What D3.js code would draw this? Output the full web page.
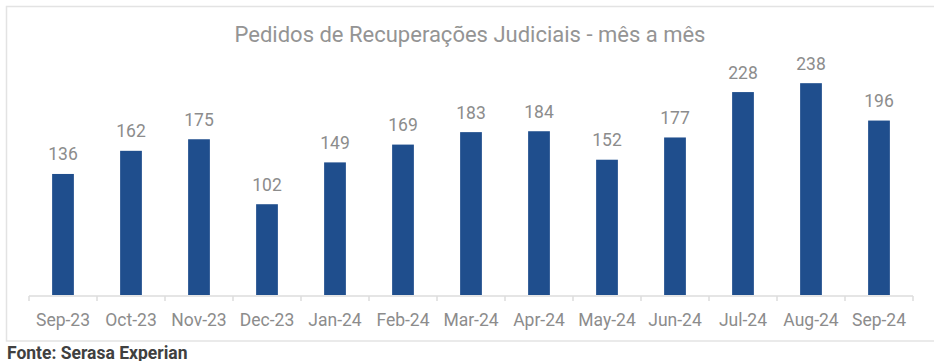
<!DOCTYPE html>
<html><head><meta charset="utf-8">
<script src="https://cdn.jsdelivr.net/npm/d3@7"></script>
<style>body{margin:0;background:#fff;}svg{display:block;}</style>
</head><body>
<script>
const categories = ["Sep-23","Oct-23","Nov-23","Dec-23","Jan-24","Feb-24","Mar-24","Apr-24","May-24","Jun-24","Jul-24","Aug-24","Sep-24"];
const values = [136,162,175,102,149,169,183,184,152,177,228,238,196];
const titleText = "Pedidos de Recuperações Judiciais - mês a mês";
const sourceText = "Fonte: Serasa Experian";

const W = 934, H = 361;
const svg = d3.select("body").append("svg").attr("width", W).attr("height", H);
svg.append("rect").attr("x", 6.5).attr("y", 6.5).attr("width", 940).attr("height", 334.5)
  .attr("fill", "#fff").attr("stroke", "#e3e3e3").attr("stroke-width", 1.5);

const x = d3.scaleBand().domain(categories).range([29, 913]).paddingInner(0.68).paddingOuter(0.34);
const y = d3.scaleLinear().domain([0, 250]).range([295, 72.5]);

svg.append("text").attr("x", 470).attr("y", 42).attr("text-anchor", "middle")
  .attr("font-family", "Roboto").attr("font-size", 22).attr("fill", "#949494").text(titleText);

svg.selectAll("rect.bar").data(values).join("rect").attr("class", "bar")
  .attr("x", (d, i) => x(categories[i])).attr("width", x.bandwidth())
  .attr("y", d => y(d)).attr("height", d => y(0) - y(d)).attr("fill", "#1f4e8d");

svg.selectAll("text.lbl").data(values).join("text").attr("class", "lbl")
  .attr("x", (d, i) => x(categories[i]) + x.bandwidth() / 2).attr("y", d => y(d) - 13.5)
  .attr("text-anchor", "middle").attr("font-family", "Roboto").attr("font-size", 17.5)
  .attr("fill", "#8c8c8c").text(d => d);

const g = svg.append("g");
g.append("line").attr("x1", 29).attr("x2", 913).attr("y1", 296).attr("y2", 296)
  .attr("stroke", "#dcdcdc").attr("stroke-width", 1.5);
g.selectAll("line.tk").data(d3.range(categories.length + 1)).join("line").attr("class", "tk")
  .attr("x1", i => 29 + i * x.step()).attr("x2", i => 29 + i * x.step())
  .attr("y1", 296).attr("y2", 301).attr("stroke", "#dcdcdc").attr("stroke-width", 1.5);

svg.selectAll("text.cat").data(categories).join("text").attr("class", "cat")
  .attr("x", d => x(d) + x.bandwidth() / 2).attr("y", 326)
  .attr("text-anchor", "middle").attr("font-family", "Roboto").attr("font-size", 17.5)
  .attr("fill", "#8c8c8c").text(d => d);

svg.append("text").attr("x", 7).attr("y", 358.5).attr("font-family", "Roboto").attr("font-weight", "bold")
  .attr("font-size", 17.5).attr("fill", "#404040").text(sourceText);
</script>
</body></html>
